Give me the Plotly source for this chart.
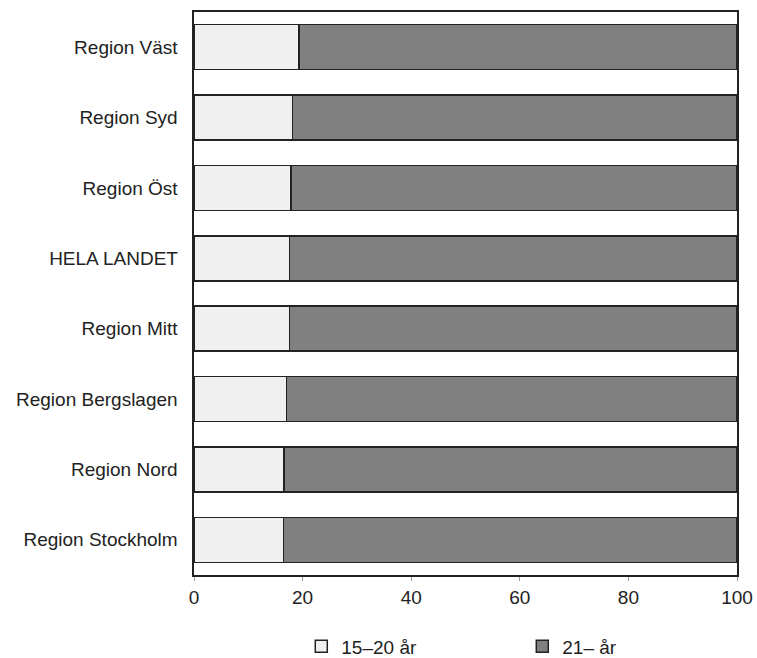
import plotly.graph_objects as go

categories = ["Region Väst", "Region Syd", "Region Öst", "HELA LANDET",
              "Region Mitt", "Region Bergslagen", "Region Nord", "Region Stockholm"]
young = [19.3, 18.1, 17.9, 17.6, 17.6, 17.0, 16.6, 16.5]
older = [round(100 - v, 1) for v in young]
series_names = ["15–20 år", "21– år"]
x_ticks = [0, 20, 40, 60, 80, 100]

fig = go.Figure()
fig.add_trace(go.Bar(y=categories, x=young, name=series_names[0], orientation="h",
                     marker=dict(color="#f0f0f0", line=dict(color="#222222", width=1.5))))
fig.add_trace(go.Bar(y=categories, x=older, name=series_names[1], orientation="h",
                     marker=dict(color="#808080", line=dict(color="#222222", width=1.5))))

fig.update_layout(
    barmode="stack",
    bargap=0.36,
    width=757, height=658,
    margin=dict(l=194, r=20, t=12, b=83, autoexpand=False),
    plot_bgcolor="white", paper_bgcolor="white",
    font=dict(family="Liberation Sans, Arial, sans-serif", size=19, color="#222222"),
    showlegend=True,
    legend=dict(orientation="h", xref="container", yref="container",
                x=0.398, xanchor="left", y=0.0175, yanchor="middle",
                font=dict(size=19), entrywidth=176, itemwidth=30, traceorder="normal"),
    xaxis=dict(range=[0, 100], tickvals=x_ticks, ticks="outside", ticklen=4,
               tickcolor="#999999", showgrid=False, zeroline=False,
               showline=True, linecolor="#222222", linewidth=2, mirror=True),
    yaxis=dict(categoryorder="array", categoryarray=categories[::-1],
               showgrid=False, ticks="", ticksuffix="  ",
               showline=True, linecolor="#222222", linewidth=2, mirror=True),
)

fig.write_html("out.html", config={"displayModeBar": False},
               post_script="document.body.style.margin='0';document.body.style.overflow='hidden';")
